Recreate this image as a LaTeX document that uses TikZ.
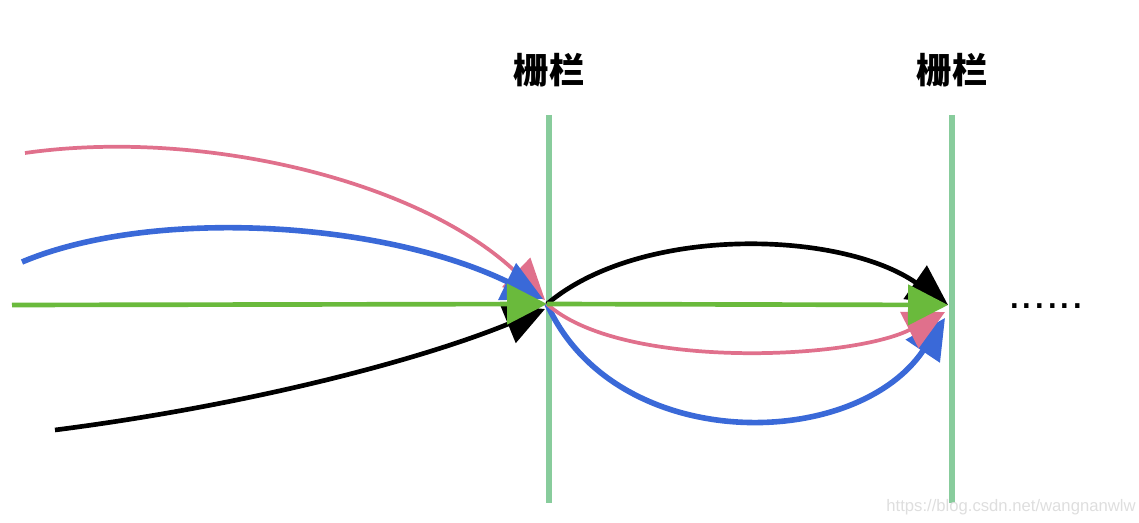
\documentclass[tikz,border=0pt]{standalone}
\usepackage{fontspec}
\setmainfont{Liberation Sans}
\newfontfamily\cjk{Noto Sans CJK SC}
\usetikzlibrary{arrows.meta}
\definecolor{fence}{HTML}{88CC9C}
\definecolor{pinkc}{HTML}{E0708C}
\definecolor{bluec}{HTML}{3A69D8}
\definecolor{greenc}{HTML}{6ABA3C}
\begin{document}
\begin{tikzpicture}[x=0.75pt,y=-0.75pt,
  fenceline/.style={draw=fence,line width=4.5pt},
  flow/.style={line width=#1,-{Triangle[length=30pt,width=30pt]}},
  lbl/.style={font=\cjk\bfseries\fontsize{26.5}{30}\selectfont}]
\useasboundingbox (0,0) rectangle (1139,523);
% fences
\coordinate (f1t) at (549,115); \coordinate (f1b) at (549,503);
\coordinate (f2t) at (952,115); \coordinate (f2b) at (952,503);
\draw[fenceline] (f1t) -- (f1b);
\draw[fenceline] (f2t) -- (f2b);
\node[lbl] (l1) at (549,70) {栅栏};
\node[lbl] (l2) at (952,70) {栅栏};
% left side
\coordinate (ps) at (25,153);
\coordinate (bs) at (22,262);
\coordinate (gs) at (12,305);
\coordinate (ks) at (55,430);
\coordinate (c1) at (547,304);
\coordinate (c1p) at (545,300);
\coordinate (c1b) at (543,299);
\coordinate (c1k) at (545,309);
\draw[flow=2.8pt,pinkc] (ps) .. controls (200,128) and (420,180) .. (c1p);
\draw[flow=4.2pt,bluec] (bs) .. controls (150,208) and (380,220) .. (c1b);
\draw[flow=3.5pt,black] (ks) .. controls (250,405) and (420,360) .. (c1k);
\draw[flow=3.5pt,greenc] (gs) -- (c1);
% right side
\coordinate (c2) at (948,305);
\coordinate (c2p) at (945,312);
\coordinate (c2b) at (945,318);
\draw[flow=3.5pt,black] (c1) .. controls (640,225) and (840,230) .. (c2);
\draw[flow=4.2pt,bluec] (c1) .. controls (615,455) and (855,452) .. (c2b);
\draw[flow=2.8pt,pinkc] (c1) .. controls (620,370) and (850,360) .. (c2p);
\draw[flow=3.5pt,greenc] (c1) -- (c2);
% dots
\node[font=\fontsize{34}{34}\selectfont,inner sep=0pt] (dots) at (1046,306) {......};
% watermark
\node[font=\fontsize{12.5}{14}\selectfont,text=black!13,inner sep=0pt] (wm) at (1011,507) {https://blog.csdn.net/wangnanwlw};
\end{tikzpicture}
\end{document}
